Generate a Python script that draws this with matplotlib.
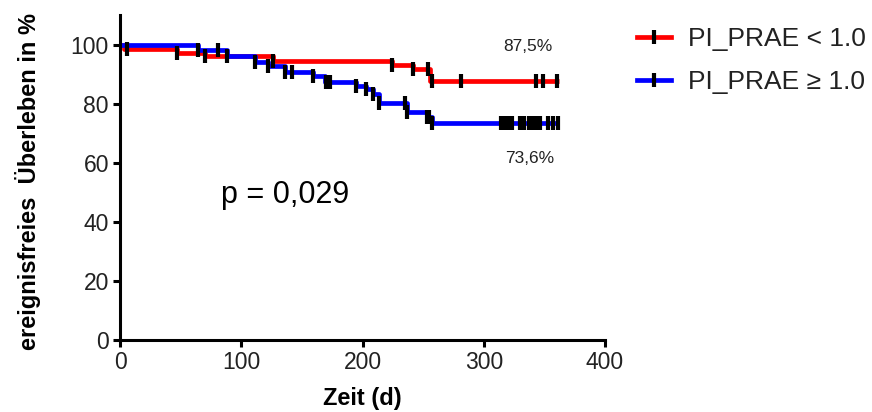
import matplotlib
matplotlib.use("Agg")
import matplotlib.pyplot as plt
from matplotlib.lines import Line2D
import numpy as np

# ---- data ----
red_times = [0, 3, 47, 70, 126, 224, 242, 256, 362]
red_surv = [100, 98.6, 97.3, 96.0, 94.6, 93.0, 91.7, 87.5, 87.5]
red_censor = [6, 47, 70, 126, 224, 242, 254, 257, 281, 343, 349, 360]

blue_times = [0, 64, 88, 111, 122, 136, 159, 169, 195, 203, 209, 214, 237, 253, 257, 361]
blue_surv = [100, 98.3, 96.2, 94.1, 92.9, 90.7, 89.5, 87.3, 86.1, 84.8, 83.4, 80.2, 77.2, 75.4, 73.6, 73.6]
blue_censor = [64, 81, 88, 111, 122, 136, 142, 159, 170, 173, 195, 203, 209, 214, 235, 237,
               253, 255, 257, 314, 317, 320, 323, 330, 333, 337, 340, 343, 346, 353, 357, 361]

labels = ["PI_PRAE < 1.0", "PI_PRAE \u2265 1.0"]
x_ticks = [0, 100, 200, 300, 400]
y_ticks = [0, 20, 40, 60, 80, 100]
red_final_label = "87,5%"
blue_final_label = "73,6%"
p_text = "p = 0,029"

RED = "#FF0000"
BLUE = "#0000FF"
TXT = "#222222"
sans = ["Liberation Sans", "DejaVu Sans"]

fig = plt.figure(figsize=(8.72, 4.12), dpi=100)
ax = fig.add_axes([120/872, (412-340)/412, 485/872, 325/412])


def step_value(times, surv, t):
    idx = np.searchsorted(times, t, side="right") - 1
    return surv[max(idx, 0)]


for times, surv, cens, col in [(red_times, red_surv, red_censor, RED),
                               (blue_times, blue_surv, blue_censor, BLUE)]:
    ax.step(times, surv, where="post", color=col, lw=3.4, solid_capstyle="butt", zorder=2)
for times, surv, cens, col in [(red_times, red_surv, red_censor, RED),
                               (blue_times, blue_surv, blue_censor, BLUE)]:
    cy = [step_value(times, surv, t) for t in cens]
    ax.plot(cens, cy, ls="none", marker="|", ms=9.5, mew=3, color="black", zorder=3)

ax.set_xlim(0, 400)
ax.set_ylim(0, 110)
ax.set_xticks(x_ticks)
ax.set_yticks(y_ticks)
for s in ["top", "right"]:
    ax.spines[s].set_visible(False)
for s in ["left", "bottom"]:
    ax.spines[s].set_linewidth(2.2)
ax.tick_params(axis="both", length=5, width=2.2, color="black", labelcolor=TXT, pad=3)
for lab in ax.get_xticklabels() + ax.get_yticklabels():
    lab.set_family(sans)
    lab.set_fontsize(16.5)

ax.set_xlabel("Zeit (d)", fontsize=17, fontweight="bold", family=sans, color="black")
ax.set_ylabel("ereignisfreies  \u00dcberleben in %", fontsize=17, fontweight="bold",
              family=sans, color="black")
ax.xaxis.set_label_coords(0.5, -0.145)
ax.yaxis.set_label_coords(-0.163, 0.488)

ax.text(336, 99.5, red_final_label, fontsize=12.5, family=sans, color=TXT, ha="center", va="center")
ax.text(338, 61.5, blue_final_label, fontsize=12.5, family=sans, color=TXT, ha="center", va="center")
ax.text(136, 49, p_text, fontsize=22, family=sans, color="black", ha="center", va="center")

handles = [Line2D([0], [0], color=RED, lw=3.4, marker="|", ms=9.5, mew=3, mec="black"),
           Line2D([0], [0], color=BLUE, lw=3.4, marker="|", ms=9.5, mew=3, mec="black")]
leg = fig.legend(handles, labels, loc="upper left", bbox_to_anchor=(637/872, 1 - 27/412),
                 frameon=False, handlelength=1.3, handletextpad=0.65,
                 labelspacing=0.72, borderpad=0, borderaxespad=0,
                 prop={"family": sans, "size": 19})
for t in leg.get_texts():
    t.set_color(TXT)

fig.savefig("out.png", dpi=100)
